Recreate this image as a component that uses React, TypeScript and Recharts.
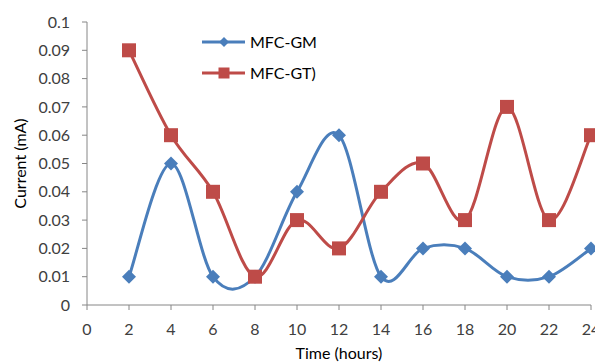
import { LineChart, Line, XAxis, YAxis } from "recharts";

// time points (hours) and measured current (mA)
const hours = [2, 4, 6, 8, 10, 12, 14, 16, 18, 20, 22, 24];
const mfcGM = [0.01, 0.05, 0.01, 0.01, 0.04, 0.06, 0.01, 0.02, 0.02, 0.01, 0.01, 0.02];
const mfcGT = [0.09, 0.06, 0.04, 0.01, 0.03, 0.02, 0.04, 0.05, 0.03, 0.07, 0.03, 0.06];
const xTicks = [0, 2, 4, 6, 8, 10, 12, 14, 16, 18, 20, 22, 24];
const yTicks = [0, 0.01, 0.02, 0.03, 0.04, 0.05, 0.06, 0.07, 0.08, 0.09, 0.1];

const data = hours.map((h, i) => ({ hour: h, gm: mfcGM[i], gt: mfcGT[i] }));

const BLUE = "#4a7ebb";
const RED = "#be4b48";
const AXIS = "#868686";
const FONT = "Lato, 'Open Sans', sans-serif";

// Excel-like smoothed line (cardinal spline, tension 0)
function smoothCurve(ctx: any) {
  let pts: [number, number][] = [];
  return {
    areaStart() {},
    areaEnd() {},
    lineStart() {
      pts = [];
    },
    point(x: number, y: number) {
      pts.push([+x, +y]);
    },
    lineEnd() {
      if (!pts.length) return;
      ctx.moveTo(pts[0][0], pts[0][1]);
      const k = 1 / 6;
      for (let i = 0; i < pts.length - 1; i++) {
        const p0 = pts[Math.max(i - 1, 0)];
        const p1 = pts[i];
        const p2 = pts[i + 1];
        const p3 = pts[Math.min(i + 2, pts.length - 1)];
        ctx.bezierCurveTo(
          p1[0] + k * (p2[0] - p0[0]),
          p1[1] + k * (p2[1] - p0[1]),
          p2[0] - k * (p3[0] - p1[0]),
          p2[1] - k * (p3[1] - p1[1]),
          p2[0],
          p2[1]
        );
      }
    },
  };
}

const Diamond = (props: any) => {
  const { cx, cy, index } = props;
  const r = 7;
  return (
    <path
      key={"d" + index}
      d={`M${cx},${cy - r}L${cx + r},${cy}L${cx},${cy + r}L${cx - r},${cy}Z`}
      fill={BLUE}
    />
  );
};

const Square = (props: any) => {
  const { cx, cy, index } = props;
  return <rect key={"s" + index} x={cx - 7} y={cy - 7} width={14} height={14} fill={RED} />;
};

const LegendBox = () => (
  <svg
    width={150}
    height={60}
    style={{ position: "absolute", left: 195, top: 28 }}
  >
    <line x1={7} y1={14} x2={50} y2={14} stroke={BLUE} strokeWidth={3} />
    <path d="M29,9L34,14L29,19L24,14Z" fill={BLUE} />
    <text x={55} y={19.5} fontSize={16} fontFamily={FONT} fill="#000">
      MFC-GM
    </text>
    <line x1={7} y1={45} x2={50} y2={45} stroke={RED} strokeWidth={3} />
    <rect x={23.5} y={39.5} width={11} height={11} fill={RED} />
    <text x={55} y={50.5} fontSize={16} fontFamily={FONT} fill="#000">
      MFC-GT)
    </text>
  </svg>
);

export default function App() {
  return (
    <div
      style={{
        position: "absolute",
        left: 0,
        top: 0,
        width: 595,
        height: 363,
        overflow: "hidden",
        background: "#fff",
      }}
    >
      <LineChart
        width={620}
        height={363}
        data={data}
        margin={{ top: 22, right: 29, left: 0, bottom: 0 }}
      >
        <XAxis
          dataKey="hour"
          type="number"
          domain={[0, 24]}
          ticks={xTicks}
          interval={0}
          height={58}
          stroke={AXIS}
          tickSize={5}
          tickMargin={14}
          tick={{ fill: "#404040", fontSize: 16, fontFamily: FONT }}
          label={{
            value: "Time (hours)",
            position: "insideBottom",
            offset: 4,
            fill: "#000",
            fontSize: 16,
            fontFamily: FONT,
          }}
        />
        <YAxis
          type="number"
          domain={[0, 0.1]}
          ticks={yTicks}
          interval={0}
          width={87}
          stroke={AXIS}
          tickSize={5}
          tickMargin={12}
          tick={{ fill: "#404040", fontSize: 16, fontFamily: FONT }}
          label={{
            value: "Current (mA)",
            angle: -90,
            position: "insideLeft",
            offset: 20,
            fill: "#000",
            fontSize: 16,
            fontFamily: FONT,
            style: { textAnchor: "middle" },
          }}
        />
        <Line
          dataKey="gm"
          type={smoothCurve as any}
          stroke={BLUE}
          strokeWidth={3}
          dot={Diamond}
          activeDot={false}
          isAnimationActive={false}
        />
        <Line
          dataKey="gt"
          type={smoothCurve as any}
          stroke={RED}
          strokeWidth={3}
          dot={Square}
          activeDot={false}
          isAnimationActive={false}
        />
      </LineChart>
      <LegendBox />
    </div>
  );
}
